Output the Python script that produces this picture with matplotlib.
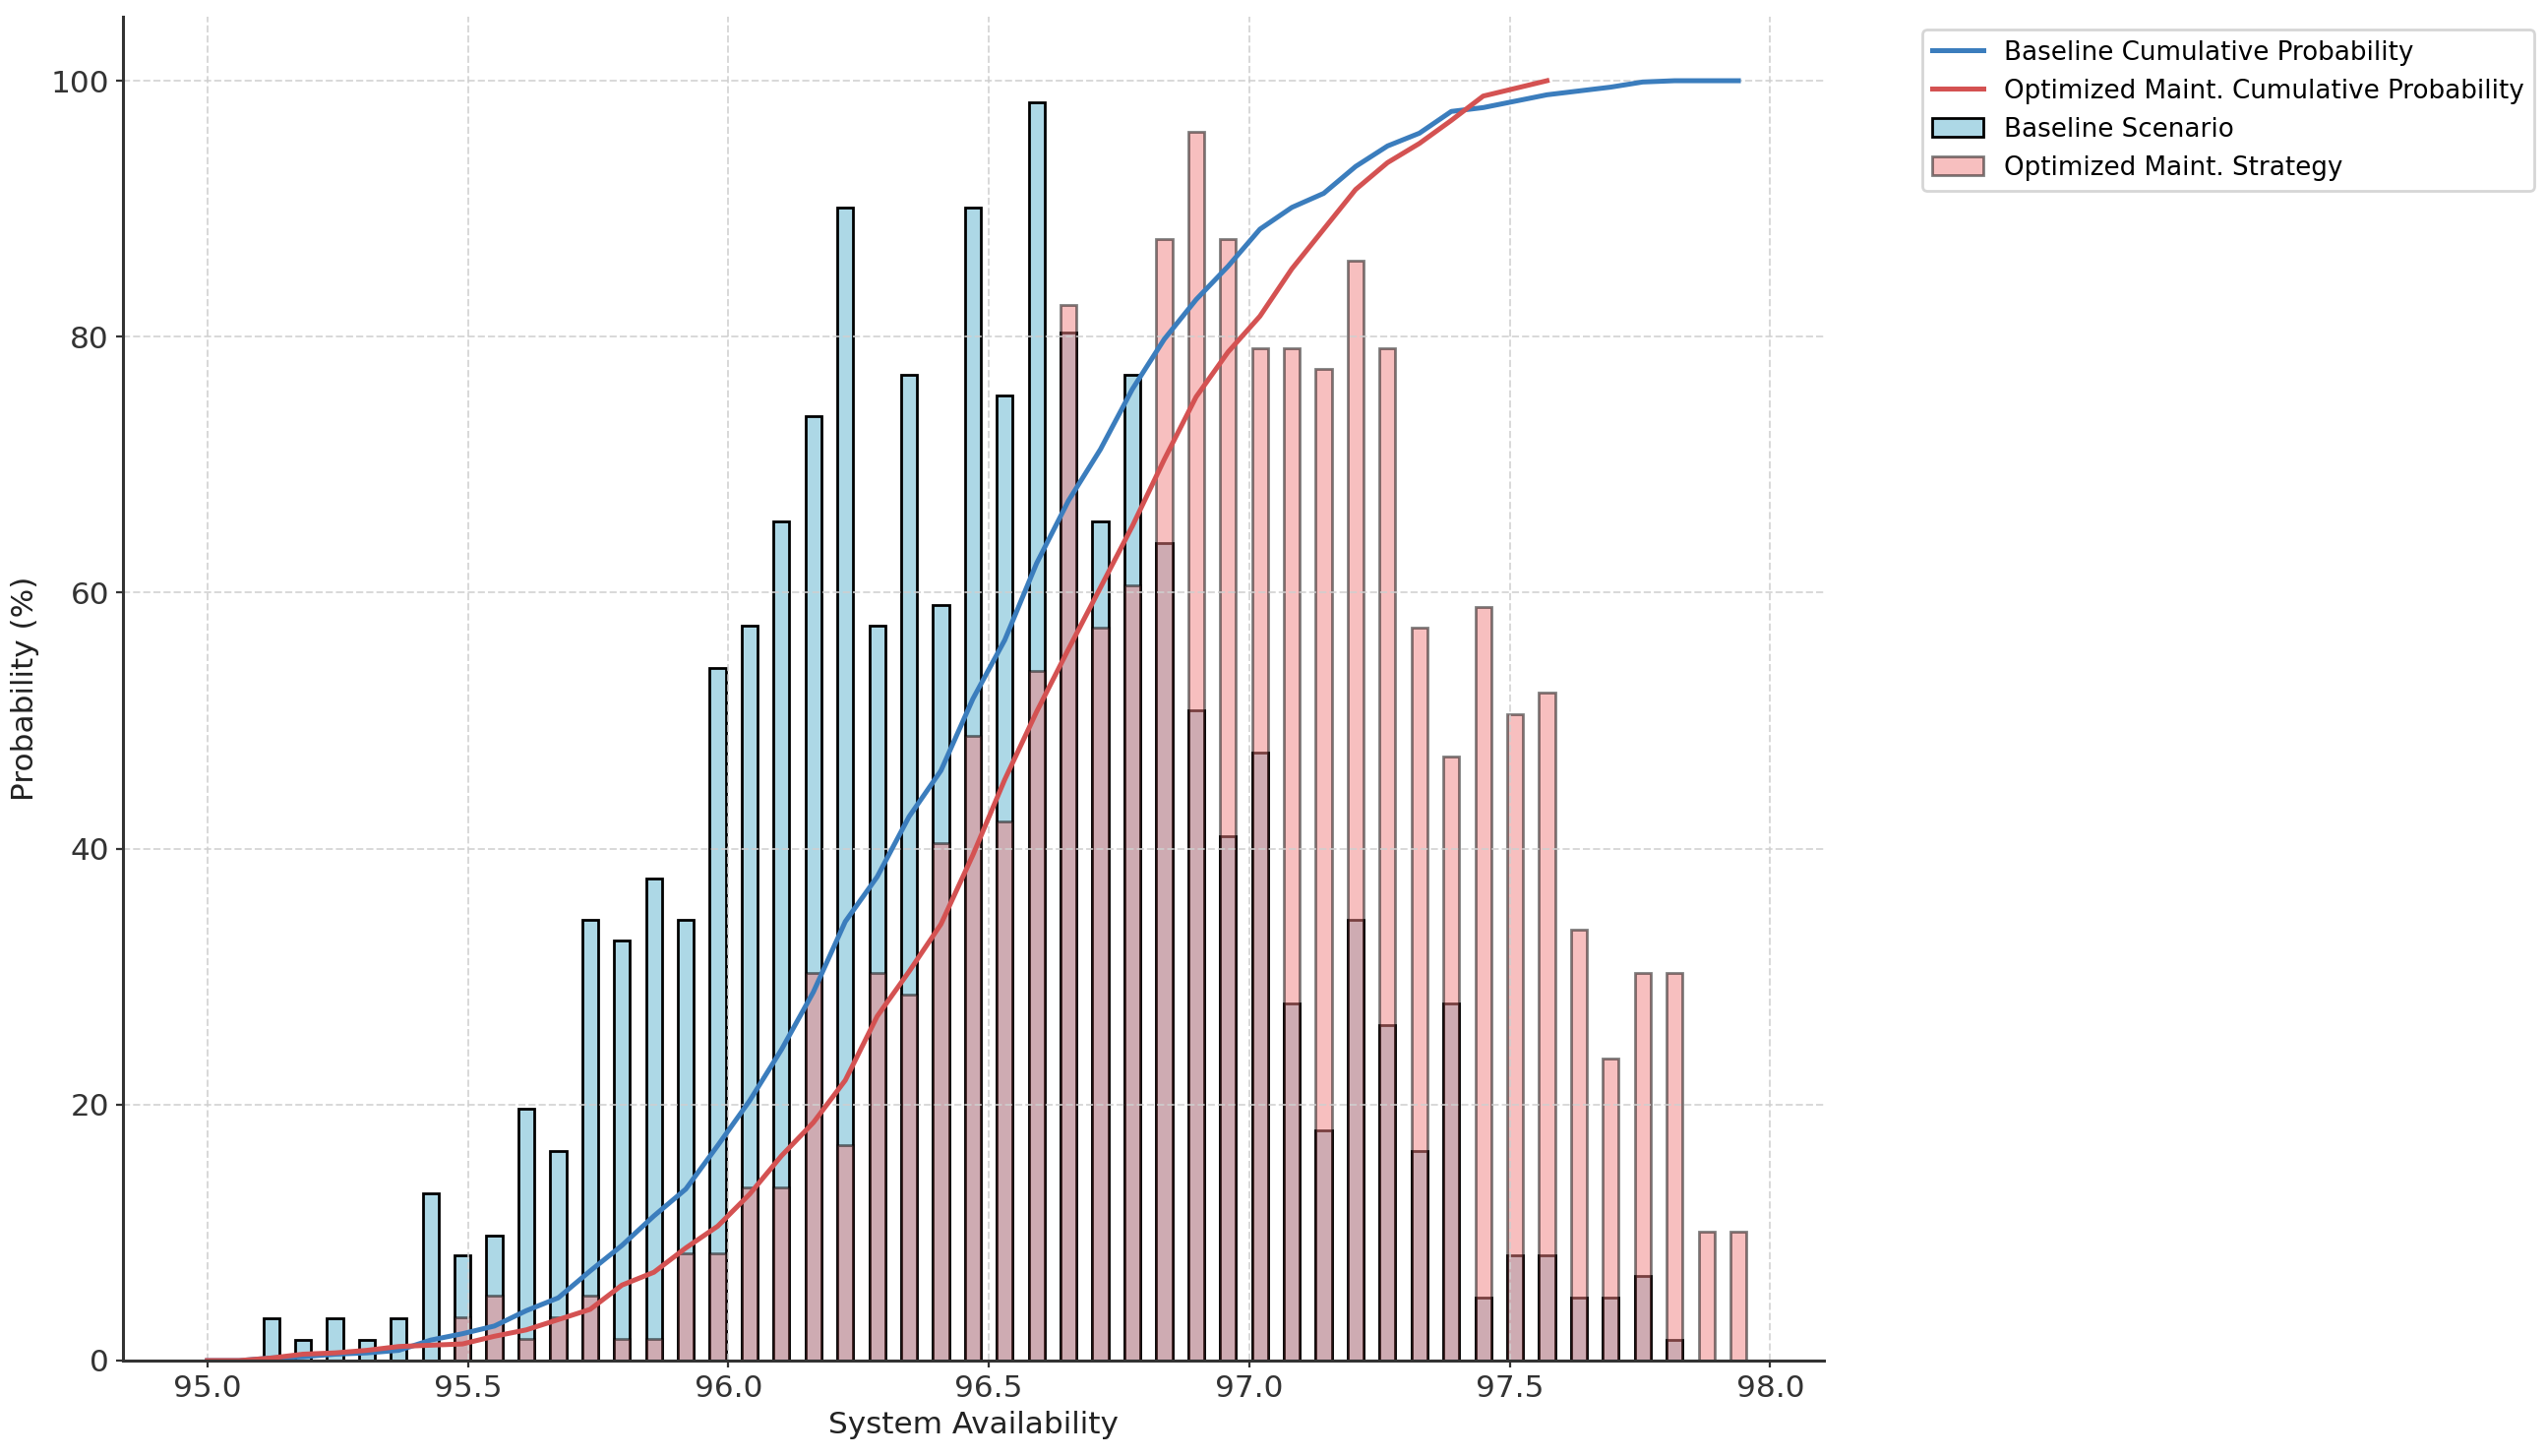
import numpy as np
import matplotlib
matplotlib.use("Agg")
import matplotlib.pyplot as plt

# ---- data ----
# histogram bin edges used as bar / line positions
bin_edges = np.linspace(95.0, 98.0, 50)

# bar heights (%) for bars centred on bin_edges[2:49]
baseline_pct = [3.3, 1.6, 3.3, 1.6, 3.3, 13.1, 8.2, 9.8, 19.7, 16.4,
                34.4, 32.8, 37.7, 34.4, 54.1, 57.4, 65.6, 73.8, 90.1, 57.4,
                77.0, 59.0, 90.1, 75.4, 98.3, 80.3, 65.6, 77.0, 63.9, 50.8,
                41.0, 47.5, 27.9, 18.0, 34.4, 26.2, 16.4, 27.9, 4.9, 8.2,
                8.2, 4.9, 4.9, 6.6, 1.6, 0.0, 0.0]
optimized_pct = [0.0, 0.0, 0.0, 0.0, 0.0, 0.0, 3.4, 5.1, 1.7, 3.4,
                 5.1, 1.7, 1.7, 8.4, 8.4, 13.5, 13.5, 30.3, 16.8, 30.3,
                 28.6, 40.4, 48.8, 42.1, 53.9, 82.5, 57.3, 60.6, 87.6, 96.0,
                 87.6, 79.1, 79.1, 77.5, 85.9, 79.1, 57.3, 47.2, 58.9, 50.5,
                 52.2, 33.7, 23.6, 30.3, 30.3, 10.1, 10.1]

# cumulative curves (%) at bin_edges[0:49] and bin_edges[0:43]
baseline_cum = [0.0, 0.0, 0.2, 0.3, 0.5, 0.6, 0.8, 1.6, 2.1, 2.7,
                3.9, 4.9, 7.0, 9.0, 11.3, 13.4, 16.8, 20.3, 24.3, 28.8,
                34.3, 37.8, 42.5, 46.1, 51.7, 56.3, 62.3, 67.2, 71.2, 75.9,
                79.8, 82.9, 85.5, 88.4, 90.1, 91.2, 93.3, 94.9, 95.9, 97.6,
                97.9, 98.4, 98.9, 99.2, 99.5, 99.9, 100.0, 100.0, 100.0]
optimized_cum = [0.0, 0.0, 0.2, 0.5, 0.6, 0.8, 1.1, 1.2, 1.3, 1.9,
                 2.4, 3.2, 4.0, 5.9, 6.9, 8.8, 10.5, 13.0, 16.0, 18.6,
                 21.9, 26.9, 30.4, 34.1, 39.5, 45.4, 50.7, 55.6, 60.4, 65.2,
                 70.4, 75.3, 78.8, 81.6, 85.3, 88.4, 91.5, 93.6, 95.1, 96.9,
                 98.8, 99.4, 100.0]

bar_x = bin_edges[2:2 + len(baseline_pct)]
base_line_x = bin_edges[:len(baseline_cum)]
opt_line_x = bin_edges[:len(optimized_cum)]
bar_w = 0.5 * (bin_edges[1] - bin_edges[0])

# ---- figure ----
plt.rcParams['font.family'] = ['DejaVu Sans']
W, H, DPI = 2589, 1480, 200
fig = plt.figure(figsize=(W / DPI, H / DPI), dpi=DPI)
ax = fig.add_axes([125 / W, 1 - 1383 / H, (1854 - 125) / W, (1383 - 17) / H])

ax.bar(bar_x, baseline_pct, width=bar_w, color='lightblue', edgecolor='black',
       linewidth=1.0, label='Baseline Scenario')
ax.bar(bar_x, optimized_pct, width=bar_w, color='lightcoral', edgecolor='black',
       linewidth=1.0, alpha=0.5, label='Optimized Maint. Strategy')

ax.plot(base_line_x, baseline_cum, color='#3b7dbd', lw=1.8,
        label='Baseline Cumulative Probability')
ax.plot(opt_line_x, optimized_cum, color='#d45252', lw=1.8,
        label='Optimized Maint. Cumulative Probability')

ax.set_xlim(94.838, 98.103)
ax.set_ylim(0, 105)
ax.set_xlabel('System Availability', fontsize=11.2, color='#222222', labelpad=3)
ax.set_ylabel('Probability (%)', fontsize=11.2, color='#222222')
ax.tick_params(axis='both', labelsize=11.2, colors='#333333', length=2.5,
               width=0.8, pad=2.5)

ax.grid(True, linestyle='--', color='#cfcfcf', linewidth=0.7, alpha=0.8)
for s in ('top', 'right'):
    ax.spines[s].set_visible(False)
for s in ('left', 'bottom'):
    ax.spines[s].set_color('#333333')
    ax.spines[s].set_linewidth(1.1)

ax.legend(loc='upper left', bbox_to_anchor=(1.05, 1), fontsize=9.4)

fig.savefig('out.png', dpi=DPI)
